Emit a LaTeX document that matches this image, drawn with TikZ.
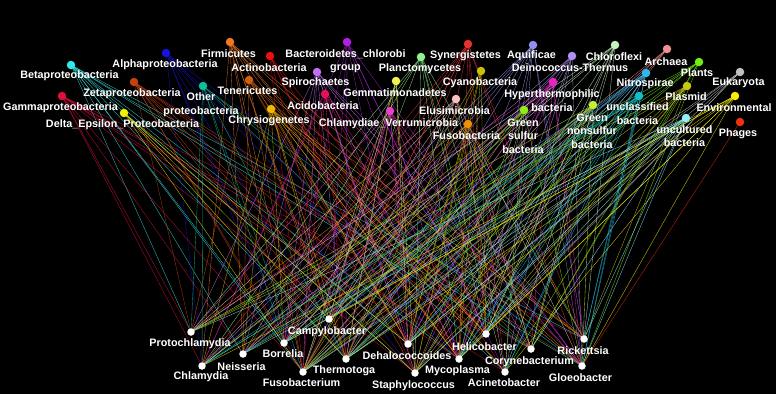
\documentclass[tikz,border=0pt]{standalone}
\usepackage{fontspec}
\setmainfont{Liberation Sans}
\usepackage{tikz}
\usetikzlibrary{positioning}
\pgfdeclarelayer{background}
\pgfsetlayers{background,main}
\definecolor{BetaCyan}{HTML}{33E8E8}
\definecolor{AlphaBlue}{HTML}{1414E0}
\definecolor{ZetaRust}{HTML}{C8400F}
\definecolor{GammaCrimson}{HTML}{E0103C}
\definecolor{DeltaYellow}{HTML}{F0F000}
\definecolor{OtherTeal}{HTML}{10C090}
\definecolor{FirmiOrange}{HTML}{F07820}
\definecolor{ActinoRed}{HTML}{E81010}
\definecolor{TeneriBrown}{HTML}{D06010}
\definecolor{ChrysioGold}{HTML}{F0B800}
\definecolor{BacteroPurple}{HTML}{B020E0}
\definecolor{SpiroLilac}{HTML}{C070F0}
\definecolor{AcidoPink}{HTML}{E8105A}
\definecolor{ChlamyMagenta}{HTML}{E840C8}
\definecolor{PlanctoGreen}{HTML}{90F090}
\definecolor{GemmaYellow}{HTML}{F0F050}
\definecolor{ElusiPink}{HTML}{F8C0C0}
\definecolor{SynergRed}{HTML}{E83030}
\definecolor{CyanoOlive}{HTML}{C8C000}
\definecolor{FusoOrange}{HTML}{F09000}
\definecolor{AquifLavender}{HTML}{9090F0}
\definecolor{DeinoViolet}{HTML}{B090F0}
\definecolor{HyperMagenta}{HTML}{F020C8}
\definecolor{SulfurLime}{HTML}{90F010}
\definecolor{NonsulfLime}{HTML}{C8F030}
\definecolor{ChloroMint}{HTML}{C8F0C0}
\definecolor{ArchaeaSalmon}{HTML}{F09090}
\definecolor{PlantsGreen}{HTML}{70F010}
\definecolor{NitroSky}{HTML}{30B8F0}
\definecolor{EukaryGray}{HTML}{C0C0C0}
\definecolor{PlasmidOlive}{HTML}{C8C810}
\definecolor{UnclassTeal}{HTML}{10C0C8}
\definecolor{EnvironYellow}{HTML}{F8F000}
\definecolor{UncultCyan}{HTML}{90F0F8}
\definecolor{PhagesRed}{HTML}{F03010}
\newcommand\labelfont{\fontsize{10.8}{13.5}\selectfont\bfseries}

\begin{document}
\begin{tikzpicture}[
    x=1pt, y=-1pt,
    dot/.style={circle, inner sep=0pt, minimum size=8.5pt},
    botdot/.style={circle, fill=white, inner sep=0pt, minimum size=7.5pt},
    lbl/.style={text=white, font=\labelfont, align=center, inner sep=0pt},
    edge/.style={line width=0.33pt, opacity=0.85}
  ]
    \useasboundingbox (0,0) rectangle (776,394);

    % Taxa (top)
    \node[dot, fill=BetaCyan] (beta) at (71,65) {};
    \node[lbl] (betaL) at (69.5,76) {Betaproteobacteria};
    \node[dot, fill=AlphaBlue] (alpha) at (166,53) {};
    \node[lbl] (alphaL) at (165,65) {Alphaproteobacteria};
    \node[dot, fill=ZetaRust] (zeta) at (134,82) {};
    \node[lbl] (zetaL) at (132,94) {Zetaproteobacteria};
    \node[dot, fill=GammaCrimson] (gamma) at (62,96) {};
    \node[lbl] (gammaL) at (60.5,108) {Gammaproteobacteria};
    \node[dot, fill=DeltaYellow] (delta) at (124,113) {};
    \node[lbl] (deltaL) at (122.5,125) {Delta\_Epsilon\_Proteobacteria};
    \node[dot, fill=OtherTeal] (other) at (203,86) {};
    \node[lbl] (otherL) at (201,104.5) {Other\\proteobacteria};
    \node[dot, fill=FirmiOrange] (firmi) at (230,42) {};
    \node[lbl] (firmiL) at (228.5,54) {Firmicutes};
    \node[dot, fill=ActinoRed] (actino) at (270,56) {};
    \node[lbl] (actinoL) at (269,68) {Actinobacteria};
    \node[dot, fill=TeneriBrown] (teneri) at (249,80) {};
    \node[lbl] (teneriL) at (247.5,91) {Tenericutes};
    \node[dot, fill=ChrysioGold] (chrysio) at (271,109) {};
    \node[lbl] (chrysioL) at (269,121) {Chrysiogenetes};
    \node[dot, fill=BacteroPurple] (bactero) at (347,42) {};
    \node[lbl] (bacteroL) at (345.5,61) {Bacteroidetes\_chlorobi\\group};
    \node[dot, fill=SpiroLilac] (spiro) at (317,72) {};
    \node[lbl] (spiroL) at (315.5,83) {Spirochaetes};
    \node[dot, fill=AcidoPink] (acido) at (325,94) {};
    \node[lbl] (acidoL) at (323,106) {Acidobacteria};
    \node[dot, fill=ChlamyMagenta] (chlamy) at (390,111) {};
    \node[lbl] (chlamyL) at (388.5,124) {Chlamydiae\_Verrumicrobia};
    \node[dot, fill=PlanctoGreen] (plancto) at (421,57) {};
    \node[lbl] (planctoL) at (420,69) {Planctomycetes};
    \node[dot, fill=GemmaYellow] (gemma) at (396,81) {};
    \node[lbl] (gemmaL) at (395,93) {Gemmatimonadetes};
    \node[dot, fill=ElusiPink] (elusi) at (456,99) {};
    \node[lbl] (elusiL) at (454.5,111) {Elusimicrobia};
    \node[dot, fill=SynergRed] (synerg) at (468,44) {};
    \node[lbl] (synergL) at (465.5,56) {Synergistetes};
    \node[dot, fill=CyanoOlive] (cyano) at (481,71) {};
    \node[lbl] (cyanoL) at (480,83) {Cyanobacteria};
    \node[dot, fill=FusoOrange] (fusoa) at (468,124) {};
    \node[lbl] (fusoaL) at (466.5,136) {Fusobacteria};
    \node[dot, fill=AquifLavender] (aquif) at (533,45) {};
    \node[lbl] (aquifL) at (531.5,56) {Aquificae};
    \node[dot, fill=DeinoViolet] (deino) at (572,56) {};
    \node[lbl] (deinoL) at (570,68) {Deinococcus-Thermus};
    \node[dot, fill=HyperMagenta] (hyper) at (553,82) {};
    \node[lbl] (hyperL) at (552,100.5) {Hyperthermophilic\\bacteria};
    \node[dot, fill=SulfurLime] (gsulfur) at (524,110) {};
    \node[lbl] (gsulfurL) at (523,136) {Green\\sulfur\\bacteria};
    \node[dot, fill=NonsulfLime] (gnonsulf) at (593,105) {};
    \node[lbl] (gnonsulfL) at (592,131) {Green\\nonsulfur\\bacteria};
    \node[dot, fill=ChloroMint] (chloro) at (615,45) {};
    \node[lbl] (chloroL) at (614,57) {Chloroflexi};
    \node[dot, fill=ArchaeaSalmon] (archaea) at (667,49) {};
    \node[lbl] (archaeaL) at (666,62) {Archaea};
    \node[dot, fill=PlantsGreen] (plants) at (699,62) {};
    \node[lbl] (plantsL) at (697,73) {Plants};
    \node[dot, fill=NitroSky] (nitro) at (646,73) {};
    \node[lbl] (nitroL) at (645,84) {Nitrospirae};
    \node[dot, fill=EukaryGray] (eukary) at (740,72) {};
    \node[lbl] (eukaryL) at (738.5,83) {Eukaryota};
    \node[dot, fill=PlasmidOlive] (plasmid) at (687,86) {};
    \node[lbl] (plasmidL) at (686,97) {Plasmid};
    \node[dot, fill=UnclassTeal] (unclass) at (639,96) {};
    \node[lbl] (unclassL) at (637.5,113.5) {unclassified\\bacteria};
    \node[dot, fill=EnvironYellow] (environ) at (735,96) {};
    \node[lbl] (environL) at (734,108) {Environmental};
    \node[dot, fill=UncultCyan] (uncult) at (686,118) {};
    \node[lbl] (uncultL) at (684.5,136) {uncultured\\bacteria};
    \node[dot, fill=PhagesRed] (phages) at (740,122) {};
    \node[lbl] (phagesL) at (738,134) {Phages};

    % Genomes (bottom)
    \node[botdot] (proto) at (191,332) {};
    \node[lbl] (protoL) at (190,344) {Protochlamydia};
    \node[botdot] (chlamydia) at (202,366) {};
    \node[lbl] (chlamydiaL) at (201,377) {Chlamydia};
    \node[botdot] (neiss) at (243,354) {};
    \node[lbl] (neissL) at (241.5,367) {Neisseria};
    \node[botdot] (borrel) at (284,343) {};
    \node[lbl] (borrelL) at (283,354) {Borrelia};
    \node[botdot] (campy) at (329,319) {};
    \node[lbl] (campyL) at (327,332) {Campylobacter};
    \node[botdot] (fusob) at (303,372) {};
    \node[lbl] (fusobL) at (301.5,383) {Fusobacterium};
    \node[botdot] (thermo) at (346,359) {};
    \node[lbl] (thermoL) at (344,371) {Thermotoga};
    \node[botdot] (dehalo) at (408,344) {};
    \node[lbl] (dehaloL) at (407,356) {Dehalococcoides};
    \node[botdot] (staph) at (415,373) {};
    \node[lbl] (staphL) at (413.5,386) {Staphylococcus};
    \node[botdot] (helico) at (486,334) {};
    \node[lbl] (helicoL) at (484.5,347) {Helicobacter};
    \node[botdot] (mycopl) at (459,359) {};
    \node[lbl] (myconL) at (457.5,371) {Mycoplasma};
    \node[botdot] (coryne) at (531,349) {};
    \node[lbl] (coryneL) at (529.5,362) {Corynebacterium};
    \node[botdot] (acinet) at (505,372) {};
    \node[lbl] (acinetL) at (504,383) {Acinetobacter};
    \node[botdot] (ricket) at (584,339) {};
    \node[lbl] (ricketL) at (583,351) {Rickettsia};
    \node[botdot] (gloeo) at (582,366) {};
    \node[lbl] (gloeoL) at (580.5,378) {Gloeobacter};

    \begin{pgfonlayer}{background}
    \fill[black] (0,0) rectangle (776,394);
    % Links taxon -> genome
    \foreach \t/\c [count=\i] in {beta/BetaCyan, alpha/AlphaBlue, zeta/ZetaRust, gamma/GammaCrimson, delta/DeltaYellow, other/OtherTeal, firmi/FirmiOrange, actino/ActinoRed, teneri/TeneriBrown, chrysio/ChrysioGold, bactero/BacteroPurple, spiro/SpiroLilac, acido/AcidoPink, chlamy/ChlamyMagenta, plancto/PlanctoGreen, gemma/GemmaYellow, elusi/ElusiPink, synerg/SynergRed, cyano/CyanoOlive, fusoa/FusoOrange, aquif/AquifLavender, deino/DeinoViolet, hyper/HyperMagenta, gsulfur/SulfurLime, gnonsulf/NonsulfLime, chloro/ChloroMint, archaea/ArchaeaSalmon, plants/PlantsGreen, nitro/NitroSky, eukary/EukaryGray, plasmid/PlasmidOlive, unclass/UnclassTeal, environ/EnvironYellow, uncult/UncultCyan}
      \foreach \b [count=\j] in {proto, chlamydia, neiss, borrel, campy, fusob, thermo, dehalo, staph, helico, mycopl, coryne, acinet, ricket, gloeo} {
        \pgfmathtruncatemacro\k{mod(3*\i*\i+7*\j+\i*\j*\j,11)}
        \ifnum\k<7
          \draw[edge, draw=\c] (\t.center) -- (\b.center);
        \fi
      };
    \draw[edge, draw=PhagesRed] (phages.center) -- (gloeo.center);
    \end{pgfonlayer}

  \end{tikzpicture}
\end{document}
